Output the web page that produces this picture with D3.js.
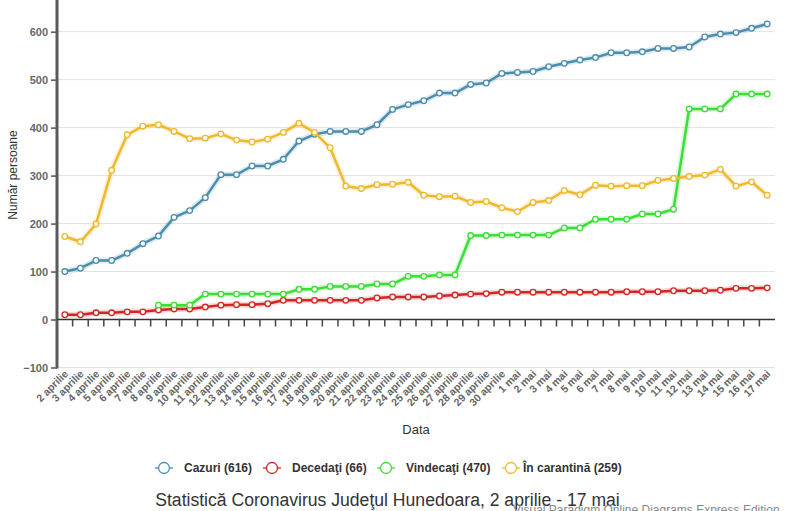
<!DOCTYPE html>
<html>
<head>
<meta charset="utf-8">
<script src="https://cdn.jsdelivr.net/npm/d3@7"></script>
<style>
  body { margin: 0; background: #fff; }
  svg { font-family: "Liberation Sans", Arial, sans-serif; }
</style>
</head>
<body>
<svg id="chart" width="786" height="511"></svg>
<script>
const dates = ["2 aprilie","3 aprilie","4 aprilie","5 aprilie","6 aprilie","7 aprilie","8 aprilie","9 aprilie","10 aprilie","11 aprilie",
  "12 aprilie","13 aprilie","14 aprilie","15 aprilie","16 aprilie","17 aprilie","18 aprilie","19 aprilie","20 aprilie","21 aprilie",
  "22 aprilie","23 aprilie","24 aprilie","25 aprilie","26 aprilie","27 aprilie","28 aprilie","29 aprilie","30 aprilie",
  "1 mai","2 mai","3 mai","4 mai","5 mai","6 mai","7 mai","8 mai","9 mai","10 mai","11 mai","12 mai","13 mai","14 mai","15 mai","16 mai","17 mai"];

const cazuri = [100,107,123,123,138,158,174,213,227,254,302,302,320,320,334,372,386,392,392,392,406,438,448,456,472,472,490,493,513,515,517,527,534,541,546,556,556,558,565,565,568,589,595,598,607,616];
const decedati = [10,10,14,14,16,16,20,22,22,26,30,31,31,33,40,40,40,40,40,40,45,47,47,47,49,51,53,54,57,57,57,57,57,57,57,57,58,58,58,60,60,60,61,65,65,66];
const vindecati = [null,null,null,null,null,null,30,30,30,53,53,53,53,53,53,63,63,69,69,69,74,74,90,90,93,93,175,175,176,176,176,176,191,191,209,209,209,220,220,230,439,439,439,470,470,470];
const carantina = [173,162,199,311,385,403,406,392,377,378,387,374,370,376,390,409,390,358,278,273,281,282,286,259,256,257,244,246,233,225,244,248,269,260,280,278,279,279,290,294,298,301,313,278,287,259];

const yTicks = [-100,0,100,200,300,400,500,600];

const series = [
  { name: "Cazuri (616)", values: cazuri, color: "#4b8dac" },
  { name: "Decedaţi (66)", values: decedati, color: "#d42525" },
  { name: "Vindecaţi (470)", values: vindecati, color: "#3ade34" },
  { name: "În carantină (259)", values: carantina, color: "#f0b82c" }
];

const svg = d3.select("#chart");
const left = 57, right = 775, bottom = 367.5;

const x = d3.scaleBand().domain(dates).range([left, right]).padding(0);
const y = d3.scaleLinear().domain([-100, 666]).range([bottom, 0]);
const cx = d => x(d) + x.bandwidth() / 2;

// grid
svg.append("g").selectAll("line").data(yTicks).join("line")
  .attr("x1", left).attr("x2", right)
  .attr("y1", d => y(d)).attr("y2", d => y(d))
  .attr("stroke", "#e2e2e2").attr("stroke-width", 1);

// y axis
const yAxis = svg.append("g")
  .attr("transform", `translate(${left},0)`)
  .call(d3.axisLeft(y).tickValues(yTicks).tickSize(6).tickPadding(3));
yAxis.select(".domain").remove();
yAxis.selectAll(".tick line").attr("stroke", "#555").attr("stroke-width", 1.5);
yAxis.selectAll(".tick text").attr("fill", "#666").style("font-size", "11px").style("font-weight", "bold")
  .style("font-family", "Liberation Sans, Arial, sans-serif");
svg.append("line").attr("x1", left).attr("x2", left).attr("y1", 0).attr("y2", bottom + 1)
  .attr("stroke", "#5a5a5a").attr("stroke-width", 3);

// x axis line at zero with ticks at band edges
const xAxis = svg.append("g")
  .attr("transform", `translate(0,${y(0)})`);
xAxis.append("line").attr("x1", left).attr("x2", right).attr("stroke", "#333").attr("stroke-width", 1.5);
xAxis.selectAll(".tk").data(dates.slice(1)).join("line")
  .attr("class", "tk")
  .attr("x1", d => x(d)).attr("x2", d => x(d))
  .attr("y1", 0).attr("y2", 7)
  .attr("stroke", "#444").attr("stroke-width", 1.5);

// x labels at bottom
svg.append("g").selectAll("text").data(dates).join("text")
  .attr("transform", d => `translate(${cx(d) + 4},${bottom + 7}) rotate(-45)`)
  .attr("text-anchor", "end")
  .attr("fill", "#666")
  .style("font-size", "10.5px").style("font-weight", "bold")
  .text(d => d);

// axis titles
svg.append("text").attr("x", (left + right) / 2).attr("y", 434)
  .attr("text-anchor", "middle").attr("fill", "#333").style("font-size", "13px").text("Data");
svg.append("text").attr("transform", "translate(17,175) rotate(-90)")
  .attr("text-anchor", "middle").attr("fill", "#333").style("font-size", "12px").text("Număr persoane");

// lines
const line = d3.line()
  .defined(d => d != null)
  .x((d, i) => cx(dates[i]))
  .y(d => y(d));

series.forEach(s => {
  svg.append("path").attr("d", line(s.values))
    .attr("fill", "none").attr("stroke", s.color).attr("stroke-width", 6).attr("stroke-opacity", 0.18)
    .attr("stroke-linejoin", "round");
  svg.append("path").attr("d", line(s.values))
    .attr("fill", "none").attr("stroke", s.color).attr("stroke-width", 2.5)
    .attr("stroke-linejoin", "round");
  svg.append("g").selectAll("circle")
    .data(s.values.map((v, i) => ({ v, i })).filter(d => d.v != null))
    .join("circle")
    .attr("cx", d => cx(dates[d.i])).attr("cy", d => y(d.v)).attr("r", 2.8)
    .attr("fill", "#fff").attr("stroke", s.color).attr("stroke-width", 1.3);
});

// legend
const legendX = [155, 263, 377, 502];
const legend = svg.append("g").attr("transform", "translate(0,468)");
series.forEach((s, i) => {
  const g = legend.append("g").attr("transform", `translate(${legendX[i]},0)`);
  g.append("line").attr("x1", 0).attr("x2", 18).attr("stroke", s.color).attr("stroke-width", 1.3);
  g.append("circle").attr("cx", 9).attr("r", 5.5).attr("fill", "#fff").attr("stroke", s.color).attr("stroke-width", 1.3);
  g.append("text").attr("x", i === 3 ? 21 : 29).attr("dy", "0.35em").attr("fill", "#333")
    .style("font-size", "12px").style("font-weight", "bold").text(s.name);
});

// title
svg.append("text").attr("x", 387.5).attr("y", 506).attr("text-anchor", "middle")
  .attr("fill", "#333").style("font-size", "17.6px").text("Statistică Coronavirus Judeţul Hunedoara, 2 aprilie - 17 mai");

// watermark
svg.append("text").attr("x", 513).attr("y", 514).attr("fill", "#888")
  .style("font-size", "12px").text("Visual Paradigm Online Diagrams Express Edition");
</script>
</body>
</html>
